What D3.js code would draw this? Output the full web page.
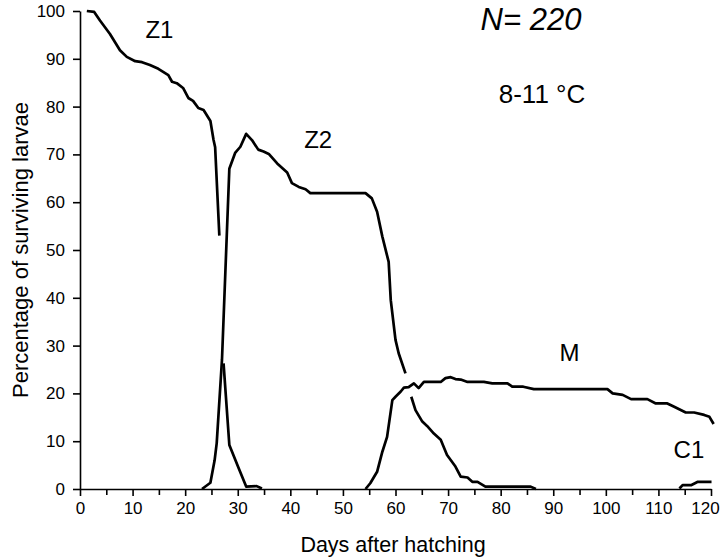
<!DOCTYPE html>
<html>
<head>
<meta charset="utf-8">
<script src="https://cdn.jsdelivr.net/npm/d3@7"></script>
<style>
  body { margin: 0; background: #fff; }
  svg { display: block; font-family: "Liberation Sans", Arial, sans-serif; }
</style>
</head>
<body>
<div id="chart"></div>
<script>
// survival per larval stage, [day, percent]; null = gap where lines cross
let z1 = [[1.3,100],[2.7,99.8],[3.8,98],[5.7,95.2],[7.6,91.8],[8.9,90.4],[10.5,89.5],[11.8,89.3],
  [13.3,88.7],[14.9,87.9],[16.8,86.6],[17.5,85.2],[18.4,84.9],[19.6,83.9],[20.6,81.8],[21.5,81.2],
  [22.5,79.7],[23.5,79.3],[24.8,77],[25.4,73],[25.7,71.5],[26.5,53],null,
  [27.3,26.3],[28.4,9.2],[30.2,4.3],[31.6,0.5],[33.6,0.6],[34.6,0.1]];

let z2 = [[23.2,0],[24.8,1.3],[25.6,6],[26,9.6],[27,27],[28.4,67],[29.5,70.3],[30.5,71.6],
  [31.6,74.3],[32.7,73],[33.9,71],[34.9,70.6],[35.9,70.1],[37.5,68.1],[39.4,66.2],[40.3,64],
  [41.6,63.2],[42.9,62.7],[43.8,61.9],[54.3,61.9],[55.5,60.8],[56.5,58],[57.5,52.8],[58.7,47.5],
  [59.1,39.5],[60,31.2],[60.6,28.4],[61.9,24.2],null,
  [63,19.3],[63.8,16.5],[65.1,14.1],[66,13.2],[67.3,11.6],[68.6,10.3],[69.8,7.1],[71.4,4.7],
  [72.4,2.6],[73.7,2.4],[74.6,1.5],[75.6,1.5],[77.1,0.5],[85.7,0.5],[86.7,0]];

let m = [[54.3,0],[55.2,1.2],[56.5,3.6],[57.5,7.8],[58.4,10.9],[59.4,18.6],[60,19.3],[61,20.4],
  [61.6,21.2],[62.5,21.3],[63.5,22.1],[64.4,21.1],[65.4,22.4],[68.6,22.4],[69.5,23.2],[70.5,23.4],
  [71.4,23],[72.4,22.9],[73.7,22.4],[76.8,22.4],[78.4,22.1],[81.3,22.1],[82.2,21.4],[84.3,21.4],
  [86.3,20.9],[100.3,20.9],[101.3,20],[103.2,19.7],[104.8,18.8],[107.9,18.8],[109.5,17.9],
  [111.7,17.9],[113,17.2],[115.2,16],[116.8,16],[118.7,15.5],[119.7,15.1],[120.5,13.6]];

let c1 = [[114,0.1],[114.6,0.8],[116.2,0.8],[117.5,1.5],[120.1,1.5]];

// stage name and where it sits (day, percent)
let stageLabels = [["Z1",15.1,94.3],["Z2",45.3,71.3],["M",93.1,26.8],["C1",115.8,6.5]];

let xTicks = d3.range(0, 121, 10);
let xMinor = d3.range(5, 120, 10);
let yTicks = d3.range(0, 101, 10);

let width = 724, height = 560;
let margin = {top: 11, right: 13, bottom: 71, left: 80};

let svg = d3.select("#chart").append("svg")
  .attr("width", width)
  .attr("height", height);

let x = d3.scaleLinear().domain([0, 120]).range([margin.left, width - margin.right]);
let y = d3.scaleLinear().domain([0, 100]).range([height - margin.bottom, margin.top]);

// axes
let xAxis = svg.append("g")
  .attr("transform", `translate(0,${y(0)})`)
  .call(d3.axisBottom(x).tickValues(xTicks).tickSize(7).tickPadding(6).tickSizeOuter(0));
svg.append("g")
  .attr("transform", `translate(0,${y(0)})`)
  .call(d3.axisBottom(x).tickValues(xMinor).tickSize(6).tickFormat("").tickSizeOuter(0))
  .select(".domain").remove();
svg.append("g")
  .attr("transform", `translate(${x(0)},0)`)
  .call(d3.axisLeft(y).tickValues(yTicks).tickSize(7).tickPadding(8).tickSizeOuter(0));

svg.selectAll(".domain, .tick line").attr("stroke", "#000").attr("stroke-width", 1.6);
svg.selectAll(".tick text")
  .attr("font-size", 17)
  .attr("fill", "#000")
  .attr("font-family", "'Liberation Sans', Arial, sans-serif");

// last label sits a bit left so it stays inside the frame
xAxis.selectAll(".tick text").filter(d => d == 120).attr("dx", -6);

// lines
let line = d3.line()
  .defined(d => d != null)
  .x(d => x(d[0]))
  .y(d => y(d[1]));

[z1, z2, m, c1].forEach(s => {
  svg.append("path")
    .datum(s)
    .attr("fill", "none")
    .attr("stroke", "#000")
    .attr("stroke-width", 2.7)
    .attr("stroke-linejoin", "round")
    .attr("d", line);
});

svg.selectAll(".stage")
  .data(stageLabels)
  .enter().append("text")
  .attr("class", "stage")
  .attr("x", d => x(d[1]))
  .attr("y", d => y(d[2]))
  .attr("text-anchor", "middle")
  .attr("font-size", 24)
  .text(d => d[0]);

svg.append("text")
  .attr("x", 531).attr("y", 30)
  .attr("text-anchor", "middle")
  .attr("font-size", 31)
  .attr("font-style", "italic")
  .text("N= 220");

svg.append("text")
  .attr("x", 542).attr("y", 103)
  .attr("text-anchor", "middle")
  .attr("font-size", 26)
  .text("8-11 °C");

// axis titles
svg.append("text")
  .attr("x", 393).attr("y", 552)
  .attr("text-anchor", "middle")
  .attr("font-size", 21.5)
  .text("Days after hatching");

svg.append("text")
  .attr("transform", `translate(28,${(y(0) + y(100)) / 2}) rotate(-90)`)
  .attr("text-anchor", "middle")
  .attr("font-size", 22)
  .text("Percentage of surviving larvae");
</script>
</body>
</html>
